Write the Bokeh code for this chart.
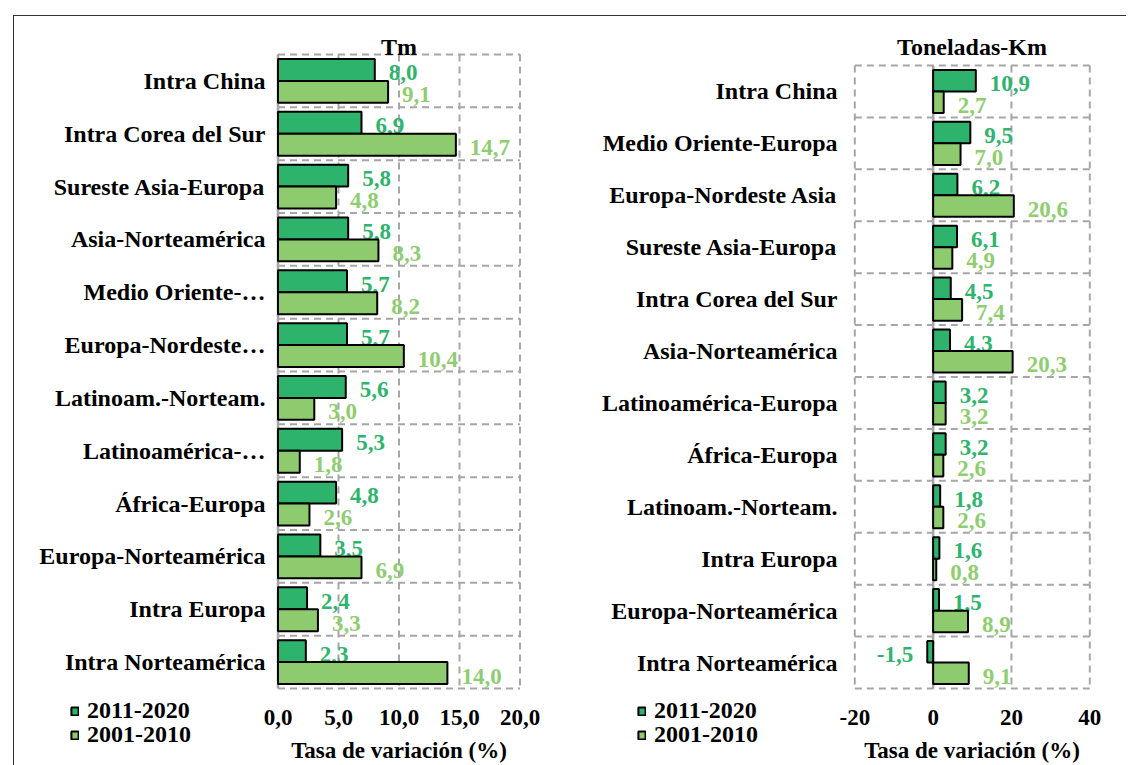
from bokeh.plotting import figure
from bokeh.models import (ColumnDataSource, Range1d, FixedTicker, Legend, LegendItem,
                          GridBox, Div)
from bokeh.core.properties import value
from bokeh.embed import file_html
from bokeh.resources import INLINE

# Growth of maritime traffic by route, two periods (tonnes and tonne-km)
tm_routes = ["Intra China", "Intra Corea del Sur", "Sureste Asia-Europa", "Asia-Norteamérica",
             "Medio Oriente-…", "Europa-Nordeste…", "Latinoam.-Norteam.", "Latinoamérica-…",
             "África-Europa", "Europa-Norteamérica", "Intra Europa", "Intra Norteamérica"]
tm_2011_2020 = [8.0, 6.9, 5.8, 5.8, 5.7, 5.7, 5.6, 5.3, 4.8, 3.5, 2.4, 2.3]
tm_2001_2010 = [9.1, 14.7, 4.8, 8.3, 8.2, 10.4, 3.0, 1.8, 2.6, 6.9, 3.3, 14.0]

tkm_routes = ["Intra China", "Medio Oriente-Europa", "Europa-Nordeste Asia", "Sureste Asia-Europa",
              "Intra Corea del Sur", "Asia-Norteamérica", "Latinoamérica-Europa", "África-Europa",
              "Latinoam.-Norteam.", "Intra Europa", "Europa-Norteamérica", "Intra Norteamérica"]
tkm_2011_2020 = [10.9, 9.5, 6.2, 6.1, 4.5, 4.3, 3.2, 3.2, 1.8, 1.6, 1.5, -1.5]
tkm_2001_2010 = [2.7, 7.0, 20.6, 4.9, 7.4, 20.3, 3.2, 2.6, 2.6, 0.8, 8.9, 9.1]

tm_ticks = [0, 5, 10, 15, 20]
tm_tick_labels = ["0,0", "5,0", "10,0", "15,0", "20,0"]
tkm_ticks = [-20, 0, 20, 40]
tkm_tick_labels = ["-20", "0", "20", "40"]

periods = ["2011-2020", "2001-2010"]
axis_title = "Tasa de variación (%)"

FONT = "Liberation Serif"
DARK = "#2db36c"
LIGHT = "#8dcb6e"
DARK_TXT = "#2eb46c"
LIGHT_TXT = "#8fce6f"
GRID = "#a6a6a6"
BAR_H = 0.415
H = 765
FRAME_TOP, FRAME_BOTTOM = 52, 691
KEY_TOP, KEY_W, KEY_H = 694, 160, 66
KEY_ROW_BOTTOMS = [36, 12]   # key rows, measured up from the key box bottom


def fmt(v):
    return f"{v:.1f}".replace(".", ",")


def extend(lo, hi, lo_px, hi_px, f_lo_px, f_hi_px):
    """Data range whose ends land on the frame edges, keeping lo/hi at lo_px/hi_px."""
    k = (hi - lo) / (hi_px - lo_px)
    return lo + (f_lo_px - lo_px) * k, hi + (f_hi_px - hi_px) * k


def panel(title, routes, recent, earlier, x_lim, ticks, tick_labels, width,
          frame_x, data_x_px, data_y_px, label_standoff):
    n = len(routes)
    x0, x1 = extend(x_lim[0], x_lim[1], data_x_px[0], data_x_px[1], frame_x[0], frame_x[1])
    y0, y1 = extend(0, n, data_y_px[0], data_y_px[1], FRAME_TOP, FRAME_BOTTOM)
    p = figure(width=width, height=H, x_range=Range1d(x0, x1), y_range=Range1d(y1, y0),
               output_backend="svg", toolbar_location=None, title=title,
               min_border_left=frame_x[0], min_border_right=width - frame_x[1],
               min_border_top=FRAME_TOP, min_border_bottom=H - FRAME_BOTTOM)
    p.outline_line_color = None
    p.grid.visible = False

    p.title.text_font = FONT
    p.title.text_font_size = "24px"
    p.title.text_font_style = "bold"
    p.title.text_color = "black"
    p.title.align = "center"
    p.title.standoff = -14

    # dashed grid: value ticks vertically, category boundaries horizontally
    p.segment(x0=ticks, x1=ticks, y0=[0] * len(ticks), y1=[n] * len(ticks),
              line_color=GRID, line_width=2, line_dash="7 5")
    p.segment(x0=[x_lim[0]] * (n + 1), x1=[x_lim[1]] * (n + 1),
              y0=list(range(n + 1)), y1=list(range(n + 1)),
              line_color=GRID, line_width=2, line_dash="7 5")
    # zero line
    p.segment(x0=[0], x1=[0], y0=[0], y1=[n], line_color=GRID, line_width=2.5)

    y_recent = [i + 0.5 - BAR_H / 2 for i in range(n)]
    y_earlier = [i + 0.5 + BAR_H / 2 for i in range(n)]

    sources = []
    series = [(recent, y_recent, DARK, DARK_TXT), (earlier, y_earlier, LIGHT, LIGHT_TXT)]
    for vals, ys, fill, txt in series:
        src = ColumnDataSource(dict(
            y=ys, v=vals, lbl=[fmt(v) for v in vals],
            align=["left" if v >= 0 else "right" for v in vals],
            xoff=[14 if v >= 0 else -14 for v in vals]))
        sources.append(src)
        p.hbar(y="y", left=0, right="v", height=BAR_H, source=src,
               fill_color=fill, line_color="black", line_width=2)
        p.text(x="v", y="y", text="lbl", source=src, text_align="align",
               x_offset="xoff", y_offset=3, text_baseline="middle",
               text_font=value(FONT), text_font_style="bold",
               text_font_size="23px", text_color=txt)

    ya = p.yaxis[0]
    ya.ticker = FixedTicker(ticks=[i + 0.5 for i in range(n)])
    ya.major_label_overrides = {i + 0.5: routes[i] for i in range(n)}
    ya.major_label_text_font = FONT
    ya.major_label_text_font_size = "24px"
    ya.major_label_text_font_style = "bold"
    ya.major_label_text_color = "black"
    ya.major_label_standoff = label_standoff
    ya.major_tick_out = 0
    ya.major_tick_in = 0
    ya.axis_line_color = None
    ya.major_tick_line_color = None
    ya.minor_tick_line_color = None

    xa = p.xaxis[0]
    xa.ticker = FixedTicker(ticks=ticks)
    xa.major_label_overrides = dict(zip(ticks, tick_labels))
    xa.major_label_text_font = FONT
    xa.major_label_text_font_size = "23px"
    xa.major_label_text_font_style = "bold"
    xa.major_label_text_color = "black"
    xa.major_label_standoff = 19
    xa.major_tick_out = 0
    xa.major_tick_in = 0
    xa.axis_line_color = None
    xa.major_tick_line_color = None
    xa.minor_tick_line_color = None
    xa.axis_label = axis_title
    xa.axis_label_text_font = FONT
    xa.axis_label_text_font_size = "23px"
    xa.axis_label_text_font_style = "bold"
    xa.axis_label_text_color = "black"
    xa.axis_label_standoff = 10
    return p, sources


def legend_box(sources):
    # key for the two periods; its bar renderers are hidden, only their swatches show
    lp = figure(width=KEY_W, height=KEY_H, title=None, x_axis_type=None, y_axis_type=None,
                x_range=Range1d(0, 1), y_range=Range1d(0, 1),
                output_backend="svg", toolbar_location=None,
                min_border_left=0, min_border_right=0, min_border_top=0, min_border_bottom=0,
                outline_line_color=None, background_fill_color=None,
                border_fill_color=None)
    for src, fill, label, y_px in zip(sources, (DARK, LIGHT), periods, KEY_ROW_BOTTOMS):
        r = lp.hbar(y="y", left=0, right="v", height=BAR_H, source=src,
                    fill_color=fill, line_color="black", line_width=2, visible=False)
        leg = Legend(items=[LegendItem(label=label, renderers=[r], index=0)],
                     location=(0, y_px), orientation="vertical",
                     padding=0, margin=0, spacing=0, glyph_width=9, glyph_height=10,
                     label_standoff=8, label_height=24,
                     label_text_font=FONT, label_text_font_style="bold",
                     label_text_font_size="24px", label_text_color="black",
                     inactive_fill_alpha=0,
                     border_line_color=None, background_fill_alpha=0)
        lp.add_layout(leg)
    return lp


p_tm, src_tm = panel("Tm", tm_routes, tm_2011_2020, tm_2001_2010, (0, 20), tm_ticks,
                     tm_tick_labels, width=565, frame_x=(275, 522), data_x_px=(277.5, 519.5),
                     data_y_px=(54, 689), label_standoff=10)
p_tkm, src_tkm = panel("Toneladas-Km", tkm_routes, tkm_2011_2020, tkm_2001_2010, (-20, 40),
                       tkm_ticks, tkm_tick_labels, width=566, frame_x=(286, 527),
                       data_x_px=(289.3, 524.3), data_y_px=(65, 689), label_standoff=14)

leg_tm = legend_box(src_tm)
leg_tkm = legend_box(src_tkm)

# thin page frame along the top and left edges
edge = Div(width=1113, height=753,
           styles={"border-top": "1.5px solid #333333", "border-left": "1.5px solid #333333",
                   "pointer-events": "none"})

# tracks: key boxes sit in the lower-left corner of each chart
cols = ["8px", "62px", f"{KEY_W}px", f"{565 - 70 - KEY_W}px",
        "72px", f"{KEY_W}px", f"{566 - 72 - KEY_W}px"]
rows = ["10px", f"{KEY_TOP - 10}px", f"{KEY_H}px", f"{H - KEY_TOP - KEY_H}px"]

layout = GridBox(children=[(p_tm, 0, 0, 4, 4), (p_tkm, 0, 4, 4, 3),
                           (leg_tm, 2, 2), (leg_tkm, 2, 5),
                           (edge, 1, 1, 3, 6)],
                 rows=rows, cols=cols, spacing=0)
open("out.html", "w").write(file_html(layout, INLINE))
